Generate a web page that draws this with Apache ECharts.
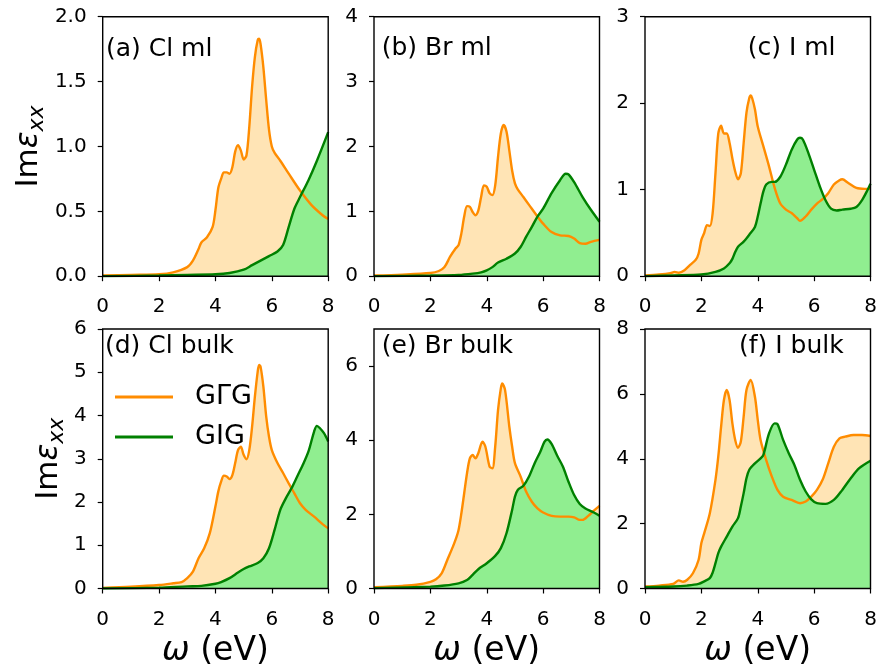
<!DOCTYPE html>
<html>
<head>
<meta charset="utf-8">
<script src="https://cdn.jsdelivr.net/npm/echarts@6/dist/echarts.min.js"></script>
<style>
  html, body { margin: 0; padding: 0; background: #fff; }
  #chart { width: 877px; height: 667px; }
</style>
</head>
<body>
<div id="chart"></div>
<script>
// ---------- DATA ----------
const xTicks = [0, 2, 4, 6, 8];
const panelLabels = ['(a) Cl ml', '(b) Br ml', '(c) I ml', '(d) Cl bulk', '(e) Br bulk', '(f) I bulk'];
const seriesNames = ['G\u0393G', 'GIG'];
const yMax = [2, 4, 3, 6, 7, 8];
const yStep = [0.5, 1, 1, 1, 2, 2];

// (a) Cl ml
const clMlGGG = [[0,0.005],[1,0.01],[2,0.015],[2.5,0.03],[3,0.07],[3.2,0.12],[3.4,0.21],[3.5,0.26],[3.7,0.30],[3.9,0.38],[4.0,0.51],[4.1,0.68],[4.2,0.75],[4.3,0.80],[4.4,0.80],[4.5,0.79],[4.6,0.84],[4.7,0.96],[4.8,1.01],[4.9,0.97],[5.0,0.90],[5.1,0.93],[5.2,1.15],[5.3,1.46],[5.4,1.69],[5.5,1.82],[5.55,1.83],[5.6,1.79],[5.7,1.61],[5.8,1.36],[5.9,1.13],[6.0,1.00],[6.1,0.95],[6.3,0.89],[6.6,0.79],[7.0,0.66],[7.4,0.55],[7.8,0.47],[8.0,0.44]];
const clMlGIG = [[0,0],[2,0.005],[3,0.01],[4,0.015],[4.5,0.025],[5.0,0.05],[5.3,0.085],[5.6,0.12],[5.9,0.155],[6.2,0.19],[6.4,0.24],[6.6,0.38],[6.8,0.52],[7.0,0.61],[7.3,0.74],[7.6,0.89],[8.0,1.11]];

// (b) Br ml
const brMlGGG = [[0,0.01],[1,0.025],[2,0.05],[2.3,0.08],[2.5,0.14],[2.7,0.30],[2.9,0.43],[3.0,0.48],[3.1,0.66],[3.2,0.92],[3.3,1.08],[3.4,1.07],[3.5,0.99],[3.6,0.94],[3.7,1.01],[3.8,1.22],[3.9,1.40],[4.0,1.38],[4.1,1.28],[4.2,1.25],[4.3,1.40],[4.4,1.84],[4.5,2.20],[4.6,2.33],[4.7,2.23],[4.8,1.94],[4.9,1.63],[5.0,1.43],[5.1,1.34],[5.3,1.22],[5.5,1.10],[5.8,0.92],[6.0,0.81],[6.3,0.68],[6.6,0.63],[6.9,0.62],[7.1,0.58],[7.3,0.51],[7.5,0.50],[7.7,0.53],[8.0,0.56]];
const brMlGIG = [[0,0],[2,0.01],[3,0.02],[3.5,0.04],[3.8,0.06],[4.0,0.09],[4.2,0.14],[4.4,0.21],[4.7,0.27],[5.0,0.35],[5.2,0.45],[5.4,0.61],[5.6,0.76],[5.8,0.92],[6.0,1.04],[6.3,1.28],[6.6,1.48],[6.8,1.58],[6.9,1.57],[7.1,1.45],[7.4,1.22],[7.7,1.02],[8.0,0.84]];

// (c) I ml
const iMlGGG = [[0,0.01],[0.5,0.02],[0.9,0.035],[1.05,0.05],[1.2,0.04],[1.4,0.07],[1.6,0.13],[1.8,0.19],[1.9,0.26],[2.0,0.42],[2.1,0.50],[2.2,0.59],[2.3,0.58],[2.4,0.73],[2.5,1.19],[2.6,1.65],[2.7,1.74],[2.8,1.65],[2.9,1.65],[3.0,1.54],[3.1,1.36],[3.2,1.21],[3.3,1.12],[3.4,1.19],[3.5,1.54],[3.6,1.89],[3.7,2.06],[3.75,2.09],[3.8,2.06],[3.9,1.93],[4.0,1.73],[4.2,1.50],[4.4,1.27],[4.6,1.02],[4.8,0.84],[5.0,0.77],[5.2,0.73],[5.4,0.67],[5.5,0.64],[5.7,0.69],[5.9,0.77],[6.1,0.84],[6.3,0.89],[6.5,0.96],[6.7,1.06],[6.9,1.11],[7.0,1.12],[7.2,1.08],[7.5,1.02],[7.8,1.01],[8.0,1.01]];
const iMlGIG = [[0,0],[1,0.01],[2,0.02],[2.5,0.05],[2.8,0.09],[3.0,0.15],[3.1,0.20],[3.2,0.28],[3.3,0.34],[3.5,0.40],[3.7,0.48],[3.9,0.57],[4.0,0.69],[4.1,0.84],[4.2,0.98],[4.3,1.06],[4.5,1.09],[4.6,1.09],[4.8,1.15],[5.0,1.29],[5.2,1.46],[5.4,1.58],[5.5,1.60],[5.6,1.58],[5.8,1.42],[6.0,1.23],[6.2,1.04],[6.4,0.88],[6.6,0.78],[6.8,0.76],[7.0,0.77],[7.3,0.78],[7.5,0.80],[7.7,0.88],[7.9,1.00],[8.0,1.07]];

// (d) Cl bulk
const clBulkGGG = [[0,0.015],[1,0.04],[2,0.08],[2.5,0.12],[2.8,0.15],[3.0,0.24],[3.2,0.39],[3.4,0.70],[3.6,0.93],[3.8,1.28],[4.0,1.90],[4.1,2.24],[4.2,2.47],[4.3,2.61],[4.4,2.59],[4.5,2.53],[4.6,2.62],[4.7,2.90],[4.8,3.20],[4.9,3.28],[5.0,3.09],[5.1,2.99],[5.2,3.20],[5.3,3.74],[5.4,4.44],[5.5,5.02],[5.55,5.17],[5.6,5.13],[5.7,4.67],[5.8,3.98],[5.9,3.51],[6.0,3.20],[6.2,2.90],[6.4,2.67],[6.6,2.43],[6.8,2.20],[7.0,1.97],[7.2,1.82],[7.5,1.66],[7.8,1.49],[8.0,1.39]];
const clBulkGIG = [[0,0],[2,0.02],[3,0.05],[3.5,0.06],[4.0,0.11],[4.2,0.15],[4.5,0.24],[4.8,0.37],[5.0,0.45],[5.2,0.51],[5.5,0.59],[5.7,0.70],[5.9,0.93],[6.1,1.36],[6.3,1.82],[6.5,2.09],[6.7,2.32],[6.9,2.59],[7.1,2.86],[7.3,3.17],[7.5,3.63],[7.6,3.76],[7.7,3.71],[7.85,3.59],[8.0,3.40]];

// (e) Br bulk
const brBulkGGG = [[0,0.035],[1,0.07],[1.5,0.10],[2.0,0.18],[2.2,0.25],[2.4,0.41],[2.6,0.77],[2.8,1.13],[2.9,1.33],[3.0,1.58],[3.1,2.03],[3.2,2.57],[3.3,3.11],[3.4,3.51],[3.5,3.60],[3.6,3.51],[3.7,3.65],[3.85,3.96],[3.95,3.83],[4.1,3.29],[4.2,3.24],[4.3,3.83],[4.4,4.81],[4.5,5.40],[4.55,5.53],[4.65,5.35],[4.8,4.37],[4.9,3.83],[5.0,3.38],[5.2,3.02],[5.4,2.61],[5.6,2.34],[5.8,2.16],[6.0,2.05],[6.3,1.96],[6.6,1.94],[6.9,1.94],[7.1,1.92],[7.3,1.85],[7.4,1.85],[7.6,1.96],[7.8,2.10],[8.0,2.23]];
const brBulkGIG = [[0,0.01],[2,0.05],[2.5,0.08],[3.0,0.14],[3.3,0.23],[3.5,0.37],[3.7,0.52],[4.0,0.68],[4.3,0.88],[4.5,1.09],[4.7,1.49],[4.9,2.12],[5.0,2.48],[5.1,2.66],[5.3,2.77],[5.5,3.02],[5.7,3.38],[5.9,3.69],[6.05,3.96],[6.15,4.02],[6.3,3.90],[6.5,3.58],[6.7,3.29],[6.9,2.88],[7.1,2.52],[7.3,2.28],[7.5,2.16],[7.8,2.05],[8.0,1.96]];

// (f) I bulk
const iBulkGGG = [[0,0.06],[0.5,0.09],[1.0,0.14],[1.2,0.25],[1.35,0.21],[1.5,0.27],[1.7,0.47],[1.9,0.88],[2.0,1.40],[2.1,1.70],[2.3,2.32],[2.5,3.35],[2.6,4.07],[2.7,4.99],[2.8,5.81],[2.9,6.12],[3.0,5.81],[3.1,5.09],[3.2,4.58],[3.3,4.34],[3.4,4.53],[3.5,5.30],[3.6,6.12],[3.75,6.43],[3.9,5.91],[4.0,5.20],[4.1,4.58],[4.3,3.96],[4.5,3.45],[4.7,3.04],[4.9,2.83],[5.2,2.73],[5.5,2.63],[5.7,2.68],[5.9,2.83],[6.1,3.04],[6.3,3.35],[6.5,3.86],[6.7,4.37],[6.9,4.63],[7.1,4.68],[7.4,4.73],[7.7,4.73],[8.0,4.70]];
const iBulkGIG = [[0,0.04],[1,0.06],[1.5,0.09],[1.9,0.14],[2.1,0.22],[2.3,0.32],[2.4,0.49],[2.5,0.78],[2.6,1.09],[2.7,1.29],[2.9,1.60],[3.1,1.91],[3.3,2.17],[3.4,2.53],[3.5,2.94],[3.6,3.40],[3.7,3.66],[3.9,3.86],[4.1,4.01],[4.2,4.12],[4.4,4.78],[4.6,5.09],[4.7,5.07],[4.9,4.58],[5.1,4.17],[5.3,3.81],[5.5,3.35],[5.7,2.99],[5.9,2.75],[6.1,2.63],[6.4,2.61],[6.7,2.73],[7.0,3.04],[7.3,3.40],[7.6,3.71],[8.0,3.94]];

const gggData = [clMlGGG, brMlGGG, iMlGGG, clBulkGGG, brBulkGGG, iBulkGGG];
const gigData = [clMlGIG, brMlGIG, iMlGIG, clBulkGIG, brBulkGIG, iBulkGIG];

// ---------- STYLE / LAYOUT ----------
const FONT = 'DejaVu Sans';
const ORANGE = '#ff8c00', ORANGE_FILL = '#ffe4b5';
const GREEN = '#008000', GREEN_FILL = '#90ee90';
const colLeft = [102.7, 374, 645];
const rowTop = [16.7, 329];
const gW = 225.5, gH = 259.5;
const labelPos = [[106, 49.5], [381.7, 48.5], [747.7, 48.5], [105, 346.7], [381.7, 346.7], [739, 346.7]];

const grids = [], xAxes = [], yAxes = [], series = [], graphics = [];
for (let i = 0; i < 6; i++) {
  const r = Math.floor(i / 3), c = i % 3;
  grids.push({ left: colLeft[c], top: rowTop[r], width: gW, height: gH, outerBoundsMode: 'none', containLabel: false,
    show: true, borderColor: '#000', borderWidth: 1.4, backgroundColor: 'rgba(0,0,0,0)', z: 10 });
  xAxes.push({
    gridIndex: i, type: 'value', min: 0, max: 8, interval: 2,
    axisLine: { show: false },
    axisTick: { show: true, length: 5, lineStyle: { color: '#000', width: 1.2 }, customValues: xTicks },
    axisLabel: { fontFamily: FONT, fontSize: 20, color: '#000', margin: 21, customValues: xTicks },
    splitLine: { show: false },
    name: r === 1 ? '{w|\u03c9} (eV)' : '',
    nameLocation: 'middle', nameGap: 43,
    nameTextStyle: { fontFamily: FONT, fontSize: 33, color: '#000', lineHeight: 40,
      rich: { w: { fontFamily: FONT, fontSize: 33, fontStyle: 'italic', color: '#000', lineHeight: 40 } } }
  });
  const step = yStep[i];
  const ticks = [];
  for (let v = 0; v <= yMax[i] + 1e-9; v += step) ticks.push(+v.toFixed(2));
  yAxes.push({
    gridIndex: i, type: 'value', min: 0, max: yMax[i], interval: step,
    axisLine: { show: false },
    axisTick: { show: true, length: 5, lineStyle: { color: '#000', width: 1.2 }, customValues: ticks },
    axisLabel: { fontFamily: FONT, fontSize: 20, color: '#000', margin: 16, customValues: ticks,
      formatter: (v) => i === 0 ? v.toFixed(1) : String(v) },
    splitLine: { show: false },
    name: c === 0 ? '{m|Im}{e|\u03b5}{s|xx}' : '',
    nameLocation: 'middle', nameGap: r === 0 ? 54 : 34,
    nameTextStyle: { fontFamily: FONT, fontSize: 31, color: '#000',
      rich: {
        m: { fontFamily: FONT, fontSize: 31, color: '#000', lineHeight: 40 },
        e: { fontFamily: FONT, fontSize: 31, fontStyle: 'italic', color: '#000', lineHeight: 40 },
        s: { fontFamily: FONT, fontSize: 22, fontStyle: 'italic', color: '#000', lineHeight: 20, verticalAlign: 'bottom' }
      } }
  });
  const common = { type: 'line', xAxisIndex: i, yAxisIndex: i, showSymbol: false, symbol: 'none', smooth: 0.3, animation: false };
  series.push(Object.assign({}, common, { name: 'fillGGG' + i, data: gggData[i], z: 1, color: ORANGE,
    lineStyle: { width: 0, opacity: 0 }, areaStyle: { color: ORANGE_FILL, opacity: 1 } }));
  series.push(Object.assign({}, common, { name: 'fillGIG' + i, data: gigData[i], z: 2, color: GREEN,
    lineStyle: { width: 0, opacity: 0 }, areaStyle: { color: GREEN_FILL, opacity: 1 } }));
  series.push(Object.assign({}, common, { name: seriesNames[0], data: gggData[i], z: 3, color: ORANGE,
    lineStyle: { width: 2.4, color: ORANGE } }));
  series.push(Object.assign({}, common, { name: seriesNames[1], data: gigData[i], z: 4, color: GREEN,
    lineStyle: { width: 2.4, color: GREEN } }));
  graphics.push({ type: 'text', x: labelPos[i][0], y: labelPos[i][1], z: 20,
    style: { text: panelLabels[i], font: '25px "' + FONT + '"', fill: '#000', verticalAlign: 'middle', align: 'left' } });
}

const chart = echarts.init(document.getElementById('chart'), null, { renderer: 'canvas' });
chart.setOption({
  animation: false,
  backgroundColor: '#fff',
  grid: grids, xAxis: xAxes, yAxis: yAxes, series: series,
  graphic: graphics,
  legend: {
    left: 110, top: 377, orient: 'vertical',
    itemWidth: 58, itemHeight: 3, itemGap: 10,
    data: [
      { name: seriesNames[0], icon: 'rect', itemStyle: { color: ORANGE } },
      { name: seriesNames[1], icon: 'rect', itemStyle: { color: GREEN } }
    ],
    textStyle: { fontFamily: FONT, fontSize: 27, color: '#000', lineHeight: 30, padding: [0, 0, 0, 17] },
    selectedMode: false
  }
});
</script>
</body>
</html>
